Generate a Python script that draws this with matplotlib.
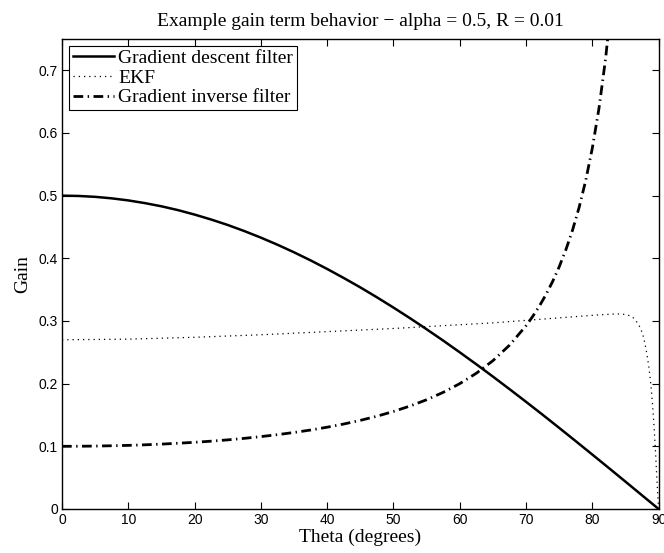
#!/usr/bin/env python3
"""Example gain term behaviour: gradient descent / EKF / gradient inverse filters."""
import matplotlib
matplotlib.use("Agg")
import matplotlib.pyplot as plt

# values (theta in degrees)
THETA_GD = [0, 2.5, 5, 7.5, 10, 12.5, 15, 17.5, 20, 22.5, 25, 27.5, 30, 32.5, 35,
            37.5, 40, 42.5, 45, 47.5, 50, 52.5, 55, 57.5, 60, 62.5, 65, 67.5, 70,
            72.5, 75, 77.5, 80, 82.5, 85, 87.5, 90]
GAIN_GD = [0.500, 0.4995, 0.4981, 0.4957, 0.4924, 0.4881, 0.4830, 0.4769, 0.4698,
           0.4619, 0.4532, 0.4435, 0.4330, 0.4217, 0.4096, 0.3967, 0.3830, 0.3686,
           0.3536, 0.3378, 0.3214, 0.3044, 0.2868, 0.2687, 0.2500, 0.2309, 0.2113,
           0.1913, 0.1710, 0.1504, 0.1294, 0.1082, 0.0868, 0.0653, 0.0436, 0.0218,
           0.000]

THETA_EKF = [0, 10, 20, 30, 40, 50, 55, 60, 65, 70, 75, 80, 83, 84.3, 85.2, 86.0,
             86.6, 87.2, 87.6, 87.9, 88.2, 88.5, 88.7, 88.9, 89.1, 89.3, 89.5, 89.7,
             89.85, 90]
GAIN_EKF = [0.270, 0.271, 0.274, 0.278, 0.283, 0.288, 0.291, 0.294, 0.297, 0.301,
            0.305, 0.309, 0.311, 0.3112, 0.310, 0.307, 0.300, 0.290, 0.279, 0.266,
            0.249, 0.229, 0.211, 0.190, 0.164, 0.133, 0.097, 0.056, 0.025, 0.000]

THETA_GI = [0, 2.5, 5, 7.5, 10, 12.5, 15, 17.5, 20, 22.5, 25, 27.5, 30, 32.5, 35,
            37.5, 40, 42.5, 45, 47.5, 50, 52.5, 55, 57.5, 60, 62.5, 65, 67.5, 70,
            71, 72, 73, 74, 75, 76, 77, 78, 79, 80, 81, 82, 83]
GAIN_GI = [0.100, 0.1001, 0.1004, 0.1009, 0.1015, 0.1024, 0.1035, 0.1049, 0.1064,
           0.1082, 0.1103, 0.1127, 0.1155, 0.1186, 0.1221, 0.1260, 0.1305, 0.1356,
           0.1414, 0.1480, 0.1556, 0.1643, 0.1743, 0.1861, 0.2000, 0.2166, 0.2366,
           0.2613, 0.2924, 0.3072, 0.3236, 0.3420, 0.3628, 0.3864, 0.4134, 0.4445,
           0.4810, 0.5241, 0.5759, 0.6392, 0.7185, 0.8206]

SERIF = ["Liberation Serif", "DejaVu Serif"]
SANS = ["Liberation Sans", "DejaVu Sans"]


def main():
    plt.rcParams["font.family"] = SANS
    fig = plt.figure(figsize=(6.64, 5.53), dpi=100)
    ax = fig.add_axes([0.0934, 0.0796, 0.8985, 0.8499])

    ax.plot(THETA_GD, GAIN_GD, color="black", lw=1.8, ls="-",
            label="Gradient descent filter")
    ax.plot(THETA_EKF, GAIN_EKF, color="black", lw=0.9, ls=(0, (1, 3.2)),
            label="EKF")
    ax.plot(THETA_GI, GAIN_GI, color="black", lw=2.0, ls=(0, (3.5, 1.6, 0.5, 1.6)),
            label="Gradient inverse filter")

    ax.set_xlim(0, 90)
    ax.set_ylim(0, 0.75)
    ax.set_xticks(range(0, 91, 10))
    ax.set_yticks([0, 0.1, 0.2, 0.3, 0.4, 0.5, 0.6, 0.7])
    ax.set_yticklabels(["0", "0.1", "0.2", "0.3", "0.4", "0.5", "0.6", "0.7"])
    ax.tick_params(direction="in", top=True, right=True, length=5, width=0.8,
                   labelsize=10, pad=3)
    for sp in ax.spines.values():
        sp.set_linewidth(1.0)

    ax.set_xlabel("Theta (degrees)", fontsize=14, family=SERIF, labelpad=1)
    ax.set_ylabel("Gain", fontsize=14, family=SERIF, labelpad=5)
    ax.set_title("Example gain term behavior \u2212 alpha = 0.5, R = 0.01",
                 fontsize=14, family=SERIF, pad=9)

    leg = ax.legend(loc="upper left", prop={"family": SERIF, "size": 14},
                    fancybox=False, edgecolor="black", framealpha=1,
                    borderaxespad=0.35, handlelength=2.1, handletextpad=0.25,
                    labelspacing=0.1, borderpad=0.2)
    leg.get_frame().set_linewidth(0.8)

    fig.savefig("out.png", dpi=100)


if __name__ == "__main__":
    main()
